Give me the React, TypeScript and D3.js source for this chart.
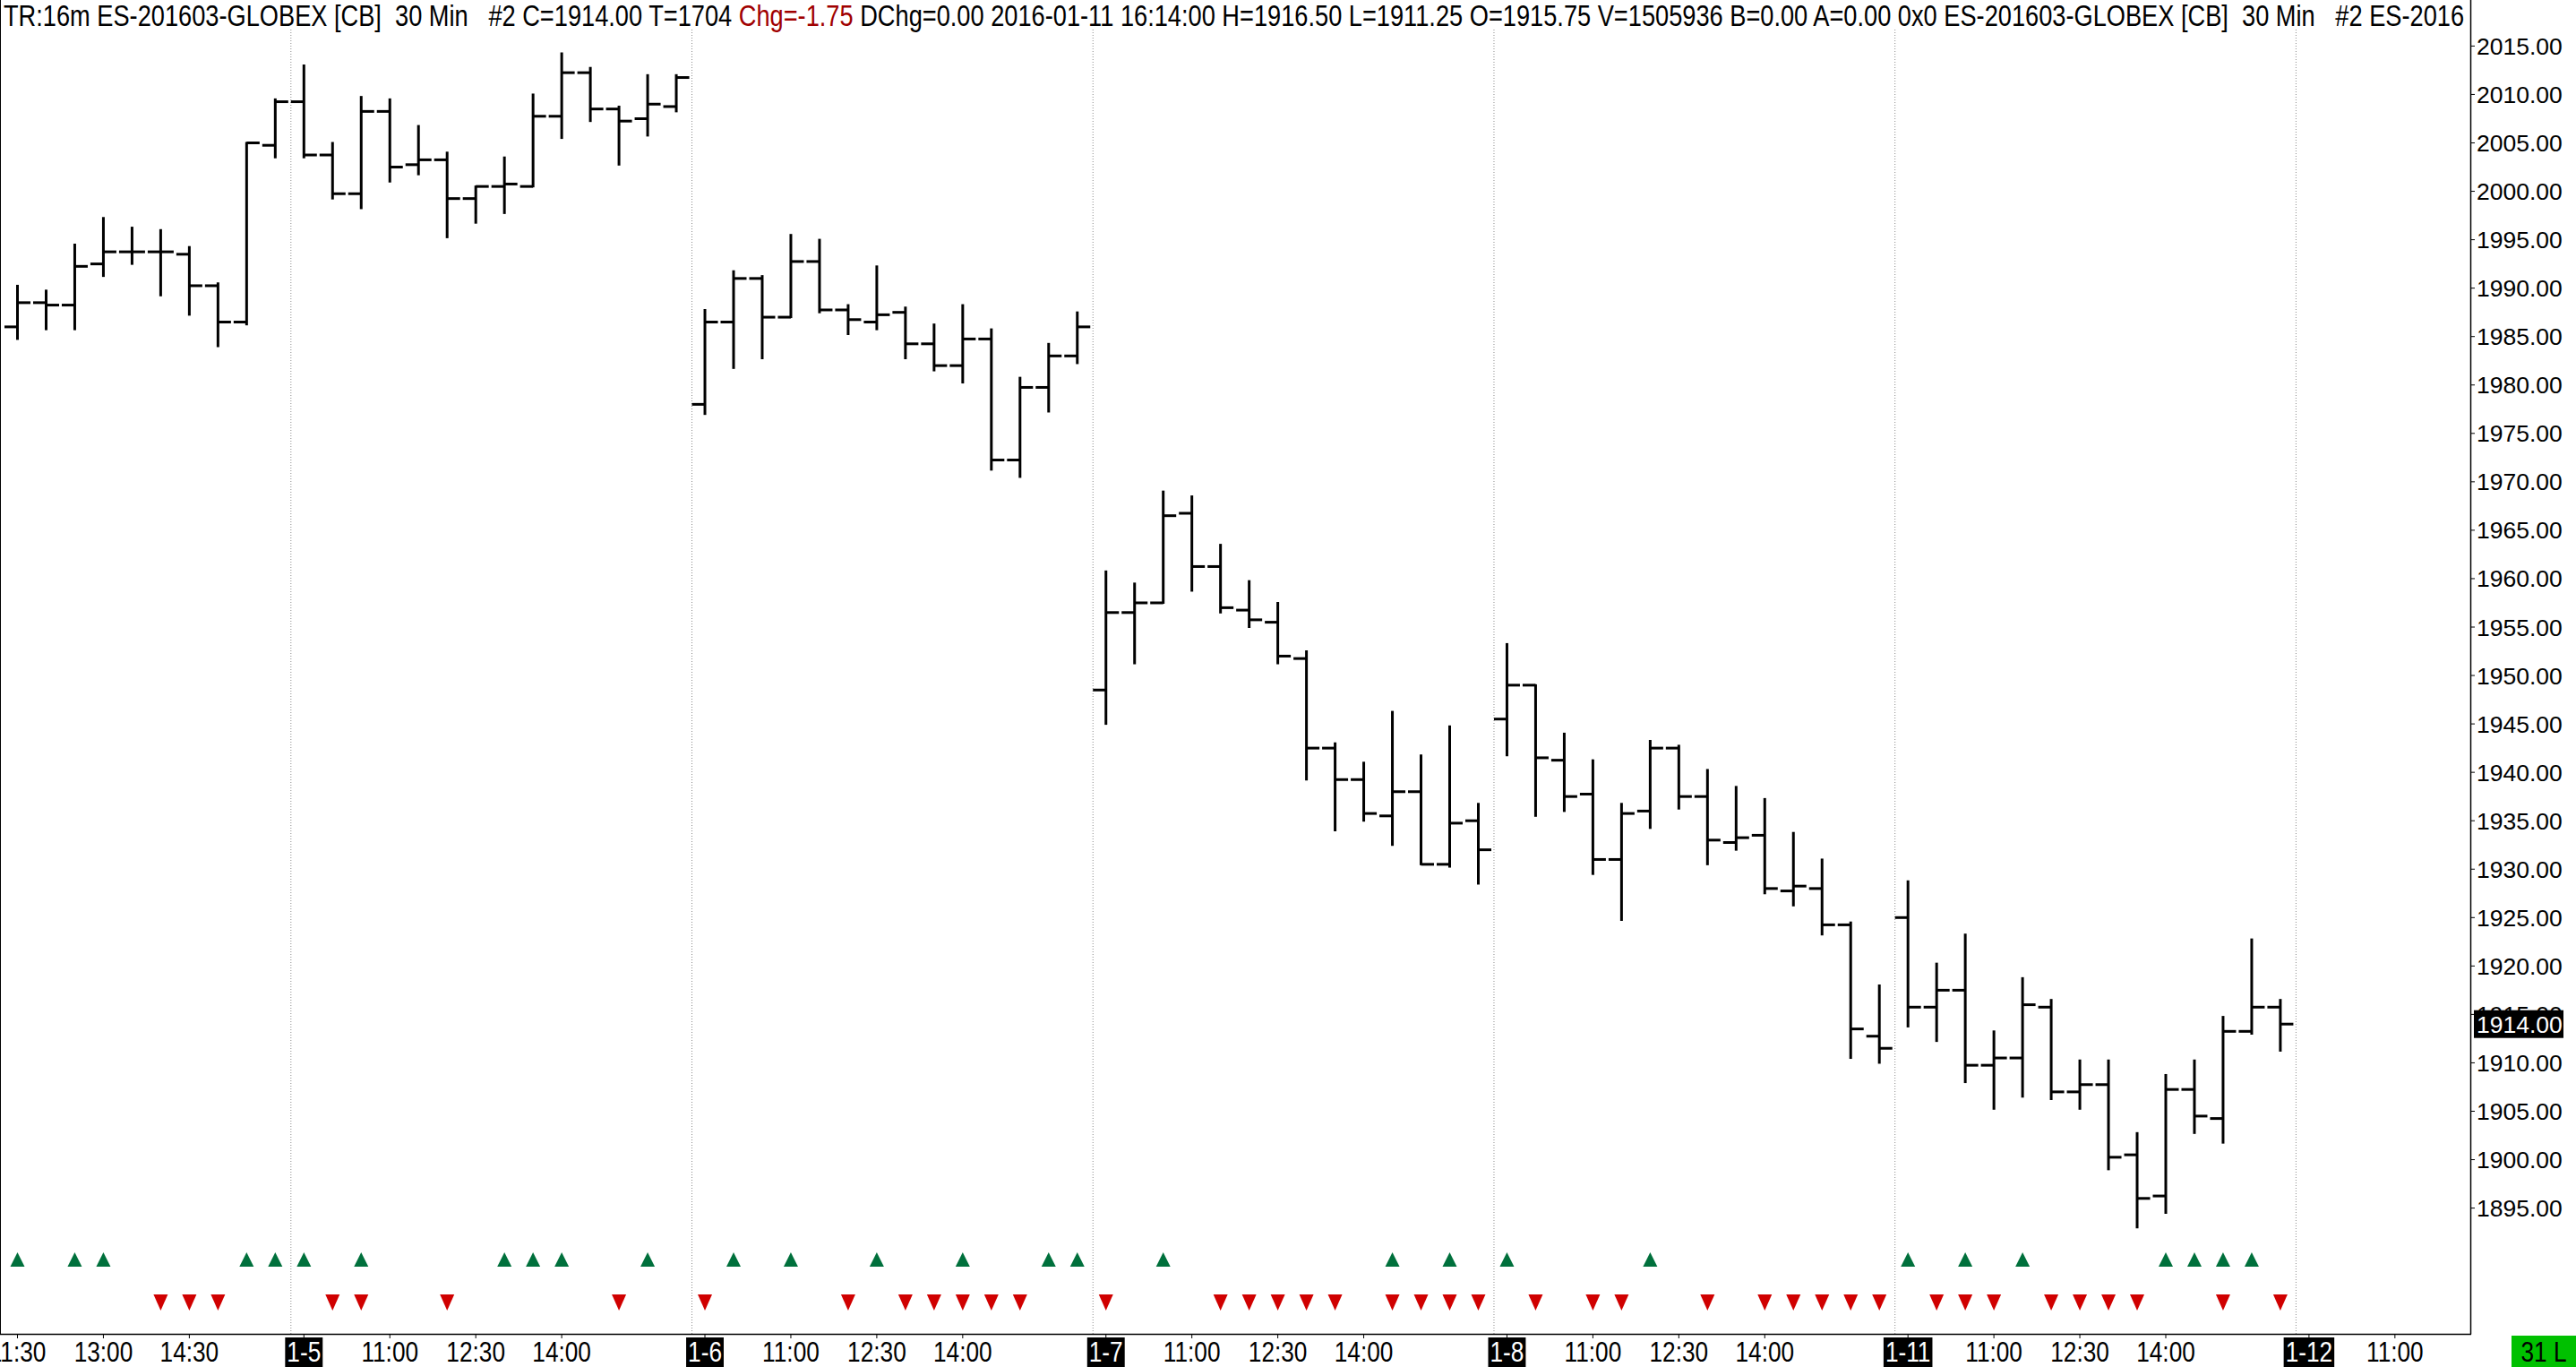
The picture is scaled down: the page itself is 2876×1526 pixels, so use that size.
import React, { useEffect, useMemo } from 'react';
import * as d3 from 'd3';

// ---- DATA ----
// 30-minute OHLC bars, ES-201603. Index 0 = 1-4 11:30, 14 bars per session (9:30..16:00)
const opens = [
  1986.0, 1988.5, 1988.25, 1992.5, 1993.75, 1993.75, 1993.5, 1990.25, 1986.5, 2004.75,
  2009.25, 2003.75, 1999.75, 2008.25, 2002.75, 2003.25, 1999.25, 2000.5, 2000.5, 2007.75, 2012.25, 2008.5, 2007.5, 2008.75,
  1978.0, 1986.5, 1991.0, 1987.0, 1992.75, 1987.75, 1986.5, 1987.5, 1984.25, 1982.0, 1984.75, 1972.25, 1979.75, 1983.0,
  1948.5, 1956.5, 1957.5, 1966.75, 1961.25, 1956.75, 1955.5, 1951.75, 1942.5, 1939.25, 1935.5, 1938.0, 1930.5, 1935.0,
  1945.5, 1949.0, 1941.25, 1937.75, 1931.0, 1936.0, 1942.5, 1937.5, 1932.75, 1933.5, 1927.75, 1928.0, 1924.25, 1912.75,
  1925.0, 1915.75, 1917.5, 1909.75, 1910.5, 1915.75, 1907.0, 1907.75, 1900.5, 1896.25, 1907.25, 1904.25, 1913.25, 1915.75,
];
const highs = [
  1990.25, 1989.75, 1994.5, 1997.25, 1996.25, 1996.0, 1994.25, 1990.5, 2005.0, 2009.5,
  2013.0, 2005.0, 2009.75, 2009.5, 2006.75, 2004.0, 2000.5, 2003.5, 2010.0, 2014.25, 2012.75, 2008.75, 2012.0, 2012.0,
  1987.75, 1991.75, 1991.25, 1995.5, 1995.0, 1988.25, 1992.25, 1988.0, 1986.25, 1988.25, 1985.75, 1980.75, 1984.25, 1987.5,
  1960.75, 1959.5, 1969.0, 1968.5, 1963.5, 1959.75, 1957.5, 1952.5, 1943.0, 1941.0, 1946.25, 1941.75, 1944.75, 1936.75,
  1953.25, 1949.0, 1944.0, 1941.25, 1936.75, 1943.25, 1942.75, 1940.25, 1938.5, 1937.25, 1933.75, 1931.0, 1924.5, 1918.0,
  1928.75, 1920.25, 1923.25, 1913.25, 1918.75, 1916.5, 1910.25, 1910.25, 1902.75, 1908.75, 1910.25, 1914.75, 1922.75, 1916.5,
];
const lows = [
  1984.75, 1985.75, 1985.75, 1991.25, 1992.5, 1989.25, 1987.25, 1984.0, 1986.25, 2003.5,
  2003.5, 1999.25, 1998.25, 2001.0, 2001.75, 1995.25, 1996.75, 1997.75, 2000.5, 2005.5, 2007.25, 2002.75, 2005.75, 2008.25,
  1977.0, 1981.75, 1982.75, 1987.0, 1987.5, 1985.25, 1985.75, 1982.75, 1981.5, 1980.25, 1971.25, 1970.5, 1977.25, 1982.25,
  1945.0, 1951.25, 1957.5, 1958.75, 1956.5, 1955.0, 1951.25, 1939.25, 1934.0, 1935.0, 1932.5, 1930.5, 1930.25, 1928.5,
  1941.75, 1935.5, 1936.0, 1929.5, 1924.75, 1934.25, 1936.25, 1930.5, 1932.0, 1927.5, 1926.25, 1923.25, 1910.5, 1910.0,
  1913.75, 1912.25, 1908.0, 1905.25, 1906.5, 1906.25, 1905.25, 1899.0, 1893.0, 1894.5, 1902.75, 1901.75, 1913.0, 1911.25,
];
const closes = [
  1988.5, 1988.25, 1992.25, 1993.75, 1993.75, 1993.75, 1990.25, 1986.5, 2005.0, 2009.25,
  2003.75, 1999.75, 2008.25, 2002.5, 2003.25, 1999.25, 2000.5, 2000.75, 2007.75, 2012.25, 2008.5, 2007.25, 2009.0, 2011.75,
  1986.5, 1991.0, 1987.0, 1992.75, 1987.75, 1986.75, 1987.25, 1984.25, 1982.0, 1984.75, 1972.25, 1979.75, 1983.0, 1986.0,
  1956.5, 1957.5, 1966.5, 1961.25, 1957.0, 1955.75, 1952.0, 1942.5, 1939.25, 1935.75, 1938.0, 1930.5, 1934.75, 1932.0,
  1949.0, 1941.5, 1937.5, 1931.0, 1935.75, 1942.5, 1937.5, 1933.0, 1933.25, 1928.0, 1928.25, 1924.25, 1913.5, 1911.5,
  1915.75, 1917.5, 1909.75, 1910.5, 1916.0, 1907.0, 1907.75, 1900.25, 1896.0, 1907.25, 1904.5, 1913.25, 1915.75, 1914.0,
];
// signal markers (bar indices)
const upSignals = [0, 2, 3, 8, 9, 10, 12, 17, 18, 19, 22, 25, 27, 30, 33, 36, 37, 40, 48, 50, 52, 57, 66, 68, 70, 75, 76, 77, 78];
const downSignals = [5, 6, 7, 11, 12, 15, 21, 24, 29, 31, 32, 33, 34, 35, 38, 42, 43, 44, 45, 46, 48, 49, 50, 51, 53, 55, 56, 59, 61, 62, 63, 64, 65, 67, 68, 69, 71, 72, 73, 74, 77, 79];
// session starts (bar index) and time axis
const sessionStarts = [10, 24, 38, 52, 66, 80];
const timeTickIndex = [0, 3, 6, 10, 13, 16, 19, 24, 27, 30, 33, 38, 41, 44, 47, 52, 55, 58, 61, 66, 69, 72, 75, 80, 83];
const timeTickLabels = ['11:30', '13:00', '14:30', '1-5', '11:00', '12:30', '14:00', '1-6', '11:00', '12:30', '14:00', '1-7', '11:00', '12:30', '14:00', '1-8', '11:00', '12:30', '14:00', '1-11', '11:00', '12:30', '14:00', '1-12', '11:00'];
const priceTicks = [1895, 1900, 1905, 1910, 1915, 1920, 1925, 1930, 1935, 1940, 1945, 1950, 1955, 1960, 1965, 1970, 1975, 1980, 1985, 1990, 1995, 2000, 2005, 2010, 2015];
const lastPrice = 1914.0;
const headerA = 'TR:16m ES-201603-GLOBEX [CB]  30 Min   #2 C=1914.00 T=1704 ';
const headerRed = 'Chg=-1.75';
const headerB = ' DChg=0.00 2016-01-11 16:14:00 H=1916.50 L=1911.25 O=1915.75 V=1505936 B=0.00 A=0.00 0x0 ES-201603-GLOBEX [CB]  30 Min   #2 ES-2016';
const cornerLabel = '31 L';

// ---- LAYOUT ----
const W = 2876;
const H = 1526;
const plotRight = 2758;
const plotBottom = 1489;

function detectNarrow(): boolean {
  try {
    const c = document.createElement('canvas').getContext('2d');
    if (!c) return false;
    const s = 'abcdefghij0123456789';
    c.font = '40px "Liberation Sans Narrow", monospace';
    const a = c.measureText(s).width;
    c.font = '40px monospace';
    const b = c.measureText(s).width;
    return Math.abs(a - b) > 0.5;
  } catch (e) {
    return false;
  }
}

export default function App() {
  useEffect(() => {
    document.body.style.margin = '0';
    document.body.style.overflow = 'hidden';
  }, []);
  const narrow = useMemo(detectNarrow, []);
  const narrowFamily = narrow ? '"Liberation Sans Narrow", "Arial Narrow", sans-serif' : '"Liberation Sans", Arial, sans-serif';
  const sx = narrow ? 1 : 0.82;

  const measure = (t: string, size: number) => {
    const c = document.createElement('canvas').getContext('2d');
    if (!c) return t.length * size * 0.45;
    c.font = `${size}px ${narrowFamily}`;
    return c.measureText(t).width * sx;
  };

  const x = d3.scaleLinear().domain([0, 85]).range([19.5, 19.5 + 85 * 31.98]);
  const y = d3.scaleLinear().domain([1895, 2015]).range([1348.6, 51.4]);

  const NText = (p: { x: number; y: number; size: number; anchor?: string; fill?: string; children: any }) => (
    <text
      transform={`translate(${p.x},${p.y}) scale(${sx},1)`}
      fontFamily={narrowFamily}
      fontSize={p.size}
      textAnchor={p.anchor || 'start'}
      fill={p.fill || '#000'}
      style={{ whiteSpace: 'pre' }}
    >
      {p.children}
    </text>
  );

  const bars = opens.map((o, i) => ({ i, o, h: highs[i], l: lows[i], c: closes[i] }));
  const tick = 14.5;
  const labelSize = 32;

  return (
    <svg
      width={W}
      height={H}
      viewBox={`0 0 ${W} ${H}`}
      style={{ position: 'absolute', left: 0, top: 0, display: 'block', background: '#fff' }}
    >
      <defs>
        <clipPath id="plotClip">
          <rect x={0} y={0} width={plotRight} height={plotBottom} />
        </clipPath>
        <clipPath id="headClip">
          <rect x={0} y={0} width={plotRight - 2} height={40} />
        </clipPath>
      </defs>
      <rect x={0} y={0} width={W} height={H} fill="#fff" />

      {/* session separators */}
      {sessionStarts.map((s) => (
        <line
          key={'sep' + s}
          x1={x(s) - 14.5}
          x2={x(s) - 14.5}
          y1={33}
          y2={plotBottom}
          stroke="#8c8c8c"
          strokeWidth={1}
          strokeDasharray="1 2"
        />
      ))}

      {/* OHLC bars */}
      <g clipPath="url(#plotClip)" stroke="#000" strokeWidth={3}>
        {bars.map((b) => (
          <g key={'b' + b.i}>
            <line x1={x(b.i)} x2={x(b.i)} y1={y(b.h) - 1} y2={y(b.l) + 1} />
            <line x1={x(b.i) - tick} x2={x(b.i)} y1={y(b.o)} y2={y(b.o)} />
            <line x1={x(b.i)} x2={x(b.i) + tick} y1={y(b.c)} y2={y(b.c)} />
          </g>
        ))}
      </g>

      {/* signals */}
      {upSignals.map((i) => (
        <polygon
          key={'u' + i}
          points={`${x(i) - 8},1414 ${x(i) + 8},1414 ${x(i)},1398`}
          fill="#00703c"
        />
      ))}
      {downSignals.map((i) => (
        <polygon
          key={'d' + i}
          points={`${x(i) - 8},1445 ${x(i) + 8},1445 ${x(i)},1463`}
          fill="#d00000"
        />
      ))}

      {/* frame */}
      <line x1={0.5} x2={0.5} y1={0} y2={plotBottom} stroke="#000" strokeWidth={1} />
      <line x1={plotRight + 0.5} x2={plotRight + 0.5} y1={0} y2={plotBottom + 0.5} stroke="#000" strokeWidth={1.5} />
      <line x1={0} x2={plotRight + 1} y1={plotBottom + 0.5} y2={plotBottom + 0.5} stroke="#000" strokeWidth={1.5} />

      {/* price axis */}
      {priceTicks.map((p) => (
        <g key={'p' + p}>
          <line x1={plotRight} x2={plotRight + 5} y1={y(p)} y2={y(p)} stroke="#000" strokeWidth={1} />
          <text x={2765} y={y(p) + 9.5} fontFamily='"Liberation Sans", Arial, sans-serif' fontSize={26.5} fill="#000">
            {p.toFixed(2)}
          </text>
        </g>
      ))}
      <rect x={2762} y={y(lastPrice) - 15.5} width={100} height={31} fill="#000" />
      <text x={2765} y={y(lastPrice) + 9.5} fontFamily='"Liberation Sans", Arial, sans-serif' fontSize={26.5} fill="#fff">
        {lastPrice.toFixed(2)}
      </text>

      {/* time axis */}
      <g>
        {timeTickIndex.map((ti, k) => {
          const label = timeTickLabels[k];
          const isDate = label.includes('-');
          const cx = x(ti);
          const w = measure(label, labelSize);
          return (
            <g key={'t' + k}>
              <line x1={cx} x2={cx} y1={plotBottom} y2={plotBottom + 5} stroke="#000" strokeWidth={1} />
              {isDate && <rect x={cx - w / 2 - 2} y={1493} width={w + 4} height={33} fill="#000" />}
              <NText x={cx} y={1520} size={labelSize} anchor="middle" fill={isDate ? '#fff' : '#000'}>
                {label}
              </NText>
            </g>
          );
        })}
      </g>

      {/* corner box */}
      <rect x={2804} y={1491} width={72} height={35} fill="#00c000" />
      <NText x={2840} y={1520} size={labelSize} anchor="middle">
        {cornerLabel}
      </NText>

      {/* header */}
      <g clipPath="url(#headClip)">
        <NText x={4} y={29} size={33.2}>
          <tspan>{headerA}</tspan>
          <tspan fill="#a00000">{headerRed}</tspan>
          <tspan>{headerB}</tspan>
        </NText>
      </g>
    </svg>
  );
}
